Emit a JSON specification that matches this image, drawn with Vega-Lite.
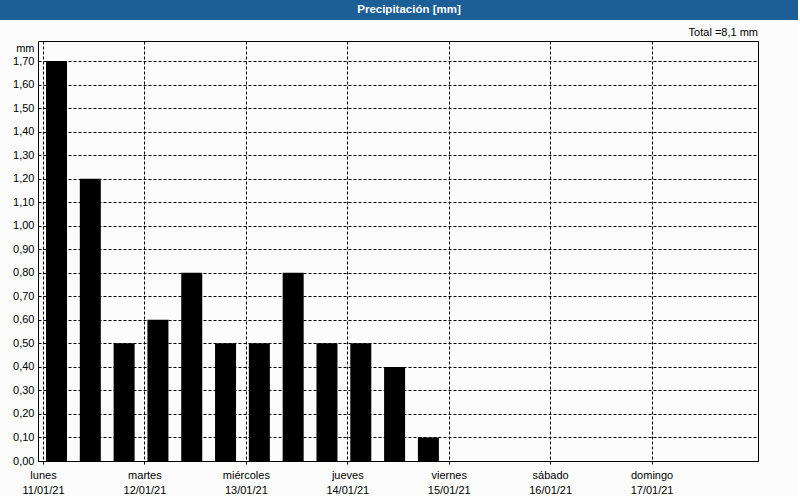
{
  "$schema": "https://vega.github.io/schema/vega-lite/v6.json",
  "padding": 0,
  "background": "#fcfcfc",
  "spacing": 6,
  "config": {
    "font": "Liberation Sans"
  },
  "vconcat": [
    {
      "width": 760,
      "height": 20,
      "view": {"fill": "#1c5e96", "stroke": null},
      "data": {"values": [{"t": "Precipitación [mm]"}]},
      "mark": {"type": "text", "color": "white", "fontWeight": "bold", "font": "Liberation Sans", "fontSize": 11.5, "dx": -9, "baseline": "middle"},
      "encoding": {
        "text": {"field": "t"},
        "y": {"datum": 0.5, "type": "quantitative", "scale": {"domain": [0, 1]},
          "axis": {"orient": "left", "translate": 0, "domainColor": "#1c5e96", "domainWidth": 84, "domainCap": "butt", "labels": false, "ticks": false, "grid": false, "title": null}}
      }
    },
    {
      "width": 720,
      "height": 420,
      "view": {"fill": "#fcfcfc", "stroke": "black", "strokeWidth": 1},
      "title": {"text": "Total =8,1 mm", "anchor": "end", "frame": "group", "fontSize": 11, "fontWeight": "normal", "font": "Liberation Sans", "offset": 3, "color": "black"},
      "data": {"values": [
        {"t": "2021-01-11T00:00:00Z", "mm": 1.7},
        {"t": "2021-01-11T08:00:00Z", "mm": 1.2},
        {"t": "2021-01-11T16:00:00Z", "mm": 0.5},
        {"t": "2021-01-12T00:00:00Z", "mm": 0.6},
        {"t": "2021-01-12T08:00:00Z", "mm": 0.8},
        {"t": "2021-01-12T16:00:00Z", "mm": 0.5},
        {"t": "2021-01-13T00:00:00Z", "mm": 0.5},
        {"t": "2021-01-13T08:00:00Z", "mm": 0.8},
        {"t": "2021-01-13T16:00:00Z", "mm": 0.5},
        {"t": "2021-01-14T00:00:00Z", "mm": 0.5},
        {"t": "2021-01-14T08:00:00Z", "mm": 0.4},
        {"t": "2021-01-14T16:00:00Z", "mm": 0.1}
      ]},
      "mark": {"type": "bar", "width": 21, "xOffset": 13.5, "color": "black"},
      "encoding": {
        "x": {
          "field": "t", "type": "temporal", "title": null,
          "scale": {"type": "utc", "domain": [{"year": 2021, "month": 1, "date": 11, "utc": true}, {"year": 2021, "month": 1, "date": 18, "utc": true}]},
          "axis": {
            "values": [
              {"year": 2021, "month": 1, "date": 11, "utc": true},
              {"year": 2021, "month": 1, "date": 12, "utc": true},
              {"year": 2021, "month": 1, "date": 13, "utc": true},
              {"year": 2021, "month": 1, "date": 14, "utc": true},
              {"year": 2021, "month": 1, "date": 15, "utc": true},
              {"year": 2021, "month": 1, "date": 16, "utc": true},
              {"year": 2021, "month": 1, "date": 17, "utc": true}
            ],
            "labelExpr": "[['domingo','lunes','martes','miércoles','jueves','viernes','sábado'][utcday(datum.value)], utcFormat(datum.value, '%d/%m/%y')]",
            "labelFlush": false,
            "labelOverlap": false,
            "labelFont": "Liberation Sans",
            "labelFontSize": 11,
            "labelColor": "black",
            "labelLineHeight": 15,
            "labelPadding": 3,
            "tickSize": 5,
            "tickColor": "black",
            "tickDash": [3, 2],
            "domain": false,
            "grid": true,
            "gridColor": "black",
            "gridOpacity": 1,
            "gridDash": [3, 2]
          }
        },
        "y": {
          "field": "mm", "type": "quantitative", "title": "mm",
          "scale": {"domain": [0, 1.785], "nice": false, "zero": true},
          "axis": {
            "values": [0, 0.1, 0.2, 0.3, 0.4, 0.5, 0.6, 0.7, 0.8, 0.9, 1.0, 1.1, 1.2, 1.3, 1.4, 1.5, 1.6, 1.7],
            "labelExpr": "replace(format(datum.value, '.2f'), '.', ',')",
            "labelFont": "Liberation Sans",
            "labelFontSize": 11,
            "labelColor": "black",
            "labelPadding": 4,
            "ticks": false,
            "tickSize": 0,
            "domain": false,
            "grid": true,
            "gridColor": "black",
            "gridOpacity": 1,
            "gridDash": [3, 2],
            "minExtent": 37,
            "maxExtent": 37,
            "titleAngle": 0,
            "titleAlign": "right",
            "titleBaseline": "middle",
            "titleX": -4,
            "titleY": 7,
            "titleFont": "Liberation Sans",
            "titleFontSize": 11,
            "titleFontWeight": "normal",
            "titleColor": "black"
          }
        }
      }
    }
  ]
}
